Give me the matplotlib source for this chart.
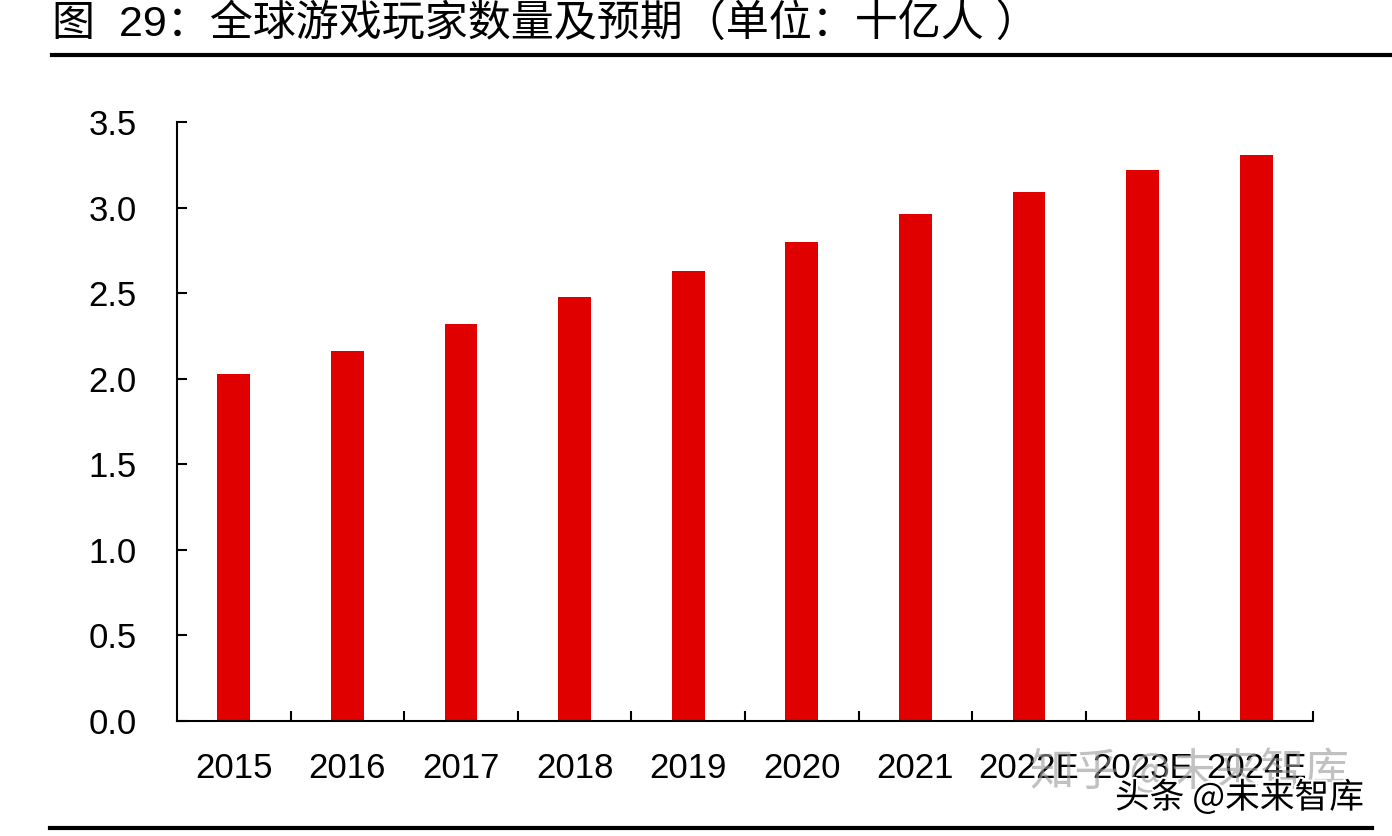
import numpy as np
import matplotlib
matplotlib.use('Agg')
import matplotlib.pyplot as plt
from matplotlib.lines import Line2D
import matplotlib.patheffects as pe

years = ['2015', '2016', '2017', '2018', '2019', '2020', '2021', '2022E', '2023E', '2024E']
players = [2.03, 2.16, 2.32, 2.48, 2.63, 2.80, 2.96, 3.09, 3.22, 3.31]
yticks = [0.0, 0.5, 1.0, 1.5, 2.0, 2.5, 3.0, 3.5]

title = '图  29：全球游戏玩家数量及预期（单位：十亿人 ）'

plt.rcParams['font.family'] = ['Liberation Sans', 'Noto Sans CJK SC', 'DejaVu Sans']

fig = plt.figure(figsize=(13.92, 8.36), dpi=100)
ax = fig.add_axes([177/1392, 1-721/836, 1136/1392, 599/836])

x = np.arange(len(years))
ax.bar(x, players, width=0.29, color='#e00000', zorder=2)

ax.set_xlim(-0.5, len(years) - 0.5)
ax.set_ylim(0, 3.5)
ax.set_yticks(yticks)
ax.set_yticklabels(['%.1f' % v for v in yticks])
ax.set_xticks(x)
ax.set_xticklabels(years)
ax.set_xticks(np.arange(len(years)) + 0.5, minor=True)

ax.tick_params(axis='y', direction='in', length=7, width=1.5, labelsize=25, pad=29)
ax.tick_params(axis='x', which='major', length=0, labelsize=25, pad=22)
ax.tick_params(axis='x', which='minor', direction='in', length=7, width=1.5)

for s in ['top', 'right']:
    ax.spines[s].set_visible(False)
for s in ['left', 'bottom']:
    ax.spines[s].set_linewidth(1.5)

fig.text(52/1392, 1-25/836, title, fontsize=31, va='center', ha='left')
fig.add_artist(Line2D([52/1392, 1.0], [1-55/836, 1-55/836], color='black', lw=3))
fig.add_artist(Line2D([50/1392, 1372/1392], [1-828/836, 1-828/836], color='black', lw=3))

# watermarks
fig.text(1030/1392, 1-772/836, '知乎 @未来智库', fontsize=32, color='#999999', alpha=0.6,
         va='center', ha='left', family=['Noto Sans CJK SC', 'DejaVu Sans'])
fig.text(1115/1392, 1-798/836, '头条 @未来智库', fontsize=25, color='black',
         va='center', ha='left', family=['Noto Sans CJK SC', 'DejaVu Sans'],
         path_effects=[pe.withStroke(linewidth=3, foreground='white')])

fig.savefig('out.png', dpi=100)
